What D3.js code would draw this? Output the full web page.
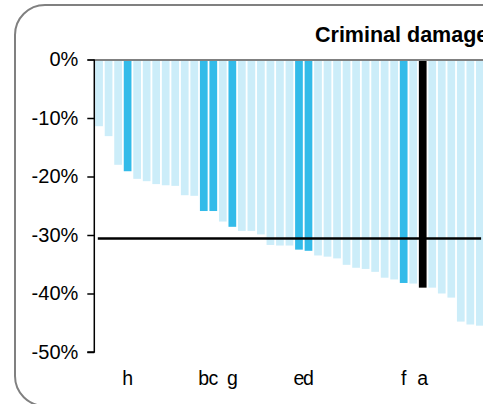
<!DOCTYPE html>
<html><head><meta charset="utf-8">
<script src="https://cdn.jsdelivr.net/npm/d3@7/dist/d3.min.js"></script>
<style>html,body{margin:0;padding:0;background:#fff;overflow:hidden}</style>
</head><body>
<svg id="c" width="483" height="404"></svg>
<script>
// ---- data ----
const values = [-11.4,-13.1,-18.0,-19.1,-20.4,-20.8,-21.3,-21.5,-21.6,-23.2,-23.3,-25.9,-25.9,-27.7,-28.6,-29.3,-29.3,-29.9,-31.7,-31.8,-31.8,-32.5,-32.7,-33.5,-33.7,-34.0,-35.1,-35.6,-35.8,-36.3,-37.3,-37.6,-38.2,-38.3,-39.0,-39.0,-40.0,-40.7,-44.8,-45.3,-45.5];
const labels = ["","","","h","","","","","","","","b","c","","g","","","","","","","e","d","","","","","","","","","","f","","a","","","","","",""];
const kinds  = ["l","l","l","d","l","l","l","l","l","l","l","d","d","l","d","l","l","l","l","l","l","d","d","l","l","l","l","l","l","l","l","l","d","l","k","l","l","l","l","l","l"];
const average = -30.6;
const yTicks = [0,-10,-20,-30,-40,-50];
const title = "Criminal damage";

const colors = {l:"#CCEDF9", d:"#33BBE9", k:"#000000"};
const svg = d3.select("#c");
const font = "'Liberation Sans', Arial, sans-serif";

// frame
svg.append("rect").attr("x",15).attr("y",5).attr("width",600).attr("height",401)
  .attr("rx",30).attr("ry",30).attr("fill","#fff").attr("stroke","#808080").attr("stroke-width",2);

const idx = values.map((d,i)=>i);
const x = d3.scaleBand().domain(idx).range([94.3,484.6]).paddingInner(0.19).paddingOuter(0.095);
const y = d3.scaleLinear().domain([-50,0]).range([352,59.5]);

// bars
svg.append("g").selectAll("rect").data(values).join("rect")
  .attr("x",(d,i)=>x(i)).attr("width",x.bandwidth())
  .attr("y",y(0)).attr("height",d=>y(d)-y(0))
  .attr("fill",(d,i)=>colors[kinds[i]]);

// top gray line (0%)
svg.append("line").attr("x1",87.5).attr("x2",483).attr("y1",y(0)+0.5).attr("y2",y(0)+0.5)
  .attr("stroke","#808080").attr("stroke-width",2);

// y axis
const yAxis = d3.axisLeft(y).tickValues(yTicks).tickSize(7).tickPadding(9).tickFormat(d=>d+"%");
const gy = svg.append("g").attr("transform","translate(94.3,0)").call(yAxis);
gy.select(".domain").attr("stroke","#000").attr("stroke-width",1.5).attr("d","M0,"+y(0)+"V"+y(-50)+"H-7");
gy.selectAll(".tick line").attr("stroke","#000").attr("stroke-width",1.5);
gy.selectAll(".tick text").attr("font-family",font).attr("font-size",20).attr("fill","#000");

// average line
svg.append("line")
  .attr("x1",x(0)+x.bandwidth()/2).attr("x2",x(values.length-1)+x.bandwidth()/2)
  .attr("y1",y(average)).attr("y2",y(average))
  .attr("stroke","#000").attr("stroke-width",2.5).attr("stroke-linecap","square");

// x labels
svg.append("g").selectAll("text").data(labels).join("text")
  .attr("x",(d,i)=>x(i)+x.bandwidth()/2).attr("y",385)
  .attr("text-anchor","middle").attr("font-family",font).attr("font-size",19.5).attr("fill","#000")
  .text(d=>d);

// title
svg.append("text").attr("x",315).attr("y",41.5).attr("font-family",font)
  .attr("font-size",21.5).attr("font-weight","bold").attr("fill","#000").text(title);
</script>
</body></html>
